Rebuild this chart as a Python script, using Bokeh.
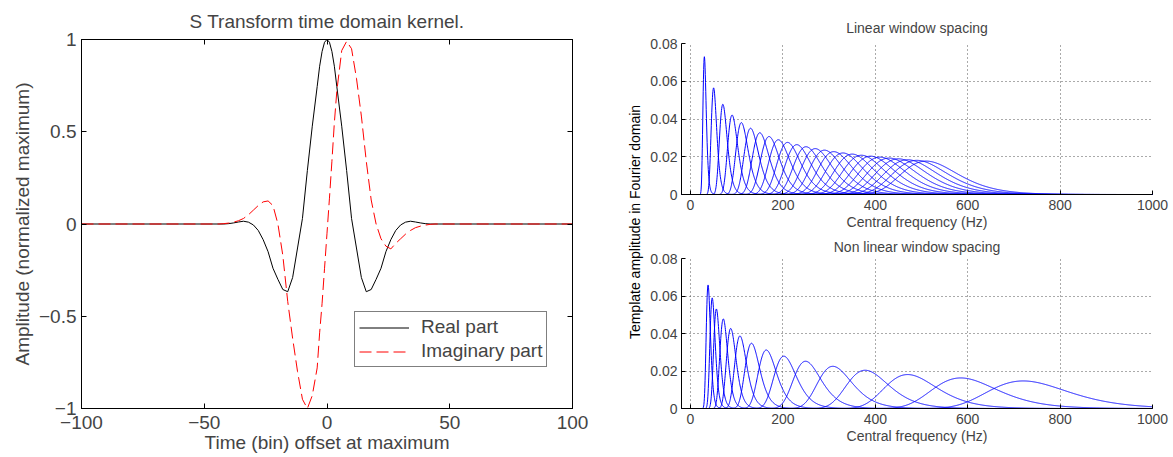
import numpy as np
from bokeh.plotting import figure
from bokeh.layouts import row, column
from bokeh.models import (Range1d, FixedTicker, LinearAxis, Legend, LegendItem,
                          Label, CustomJSTickFormatter, CustomLabelingPolicy)
from bokeh.embed import file_html
from bokeh.resources import INLINE

# ---------------- data ----------------
# Left panel: S transform time-domain kernel
kernel_offset = [-100, -44, -42, -40, -38, -36, -34, -32, -30, -28, -26, -24, -22, -20,
                 -18, -16, -14, -12, -10, -8, -6, -4, -3, -2, -1, 0, 1, 2, 3, 4, 6, 8,
                 10, 12, 14, 16, 18, 20, 22, 24, 26, 28, 30, 32, 34, 36, 38, 40, 42, 44,
                 100]
real_part = [0.0,
             0.0, 0.0, 0.002, 0.006, 0.011, 0.015, 0.01, -0.005, -0.035, -0.085, -0.15,
             -0.24, -0.30, -0.355, -0.367, -0.29, -0.13, 0.03,
             0.29, 0.53, 0.745, 0.855, 0.935, 0.985,
             1.0,
             0.985, 0.935, 0.855, 0.745, 0.53, 0.29,
             0.03, -0.13, -0.29, -0.367, -0.355, -0.30, -0.24, -0.15, -0.085, -0.035,
             -0.005, 0.01, 0.015, 0.011, 0.006, 0.002, 0.0, 0.0,
             0.0]
imag_part = [0.0,
             0.0, 0.002, 0.005, 0.01, 0.018, 0.03, 0.05, 0.075, 0.10, 0.12, 0.125, 0.10,
             0.0, -0.17, -0.42, -0.62, -0.80, -0.95,
             -1.0, -0.93, -0.78, -0.59, -0.43, -0.24,
             -0.05,
             0.14, 0.34, 0.55, 0.72, 0.94, 0.99,
             0.95, 0.79, 0.585, 0.34, 0.13, 0.0, -0.08, -0.12, -0.135, -0.105, -0.08,
             -0.055, -0.035, -0.02, -0.012, -0.006, -0.002, 0.0,
             0.0]
kernel_xticks = [-100, -50, 0, 50, 100]
kernel_yticks = [-1, -0.5, 0, 0.5, 1]

# Right panels: window templates (centre frequency in Hz, peak amplitude)
linear_centres = [30, 50, 70, 90, 110, 130, 150, 170, 190, 210, 230, 250, 270, 290,
                  310, 330, 350, 370, 390, 410, 430, 450, 470, 490, 510]
linear_peaks = [0.073, 0.0565, 0.0478, 0.0421, 0.0381, 0.0351, 0.0327, 0.0307, 0.029,
                0.0276, 0.0264, 0.0253, 0.0243, 0.0235, 0.0227, 0.022, 0.0214, 0.0208,
                0.0203, 0.0198, 0.0193, 0.0189, 0.0184, 0.0181, 0.0177]
nonlinear_centres = [38, 47, 56, 71, 87, 107, 132, 164, 202, 249, 308, 378, 470, 585, 720]
nonlinear_peaks = [0.0659, 0.059, 0.0531, 0.0478, 0.0427, 0.0387, 0.0348, 0.0312, 0.0279,
                   0.0252, 0.0225, 0.0204, 0.0181, 0.0163, 0.0147]
window_sharpness = 35.0   # relative width of the Gaussian windows
freq_ticks = [0, 200, 400, 600, 800, 1000]
amp_ticks = [0, 0.02, 0.04, 0.06, 0.08]

FONT = "Liberation Sans"
FMT = CustomJSTickFormatter(code="return tick < 0 ? '\u2212' + String(-tick) : String(tick);")
NO_LABELS = "for (const i of indices) { indices.unset(i) }\nreturn indices"

freq = np.arange(-20.0, 1000.01, 0.5)


def template(f, centre, peak):
    fs = np.where(f > 0, f, 1.0)
    g = peak * np.exp(-window_sharpness * ((fs - centre) / fs) ** 2)
    return np.where(f > 0, g, 0.0)


# ---------------- left panel ----------------
p1 = figure(width=610, height=457, x_range=Range1d(-100, 100), y_range=Range1d(-1, 1),
            output_backend="svg", toolbar_location=None,
            min_border_left=81, min_border_right=38, min_border_top=39, min_border_bottom=49)
p1.grid.visible = False
p1.outline_line_color = "black"
p1.outline_line_width = 1
p1.title.text = "S Transform time domain kernel."
p1.title.align = "center"
p1.title.text_font = FONT
p1.title.text_font_size = "19px"
p1.title.text_font_style = "normal"
p1.title.standoff = 8

for ax, ticks, lab in ((p1.xaxis[0], kernel_xticks, "Time (bin) offset at maximum"),
                       (p1.yaxis[0], kernel_yticks, "Amplitude (normalized maximum)")):
    ax.ticker = FixedTicker(ticks=ticks)
    ax.formatter = FMT
    ax.axis_label = lab
    ax.axis_label_text_font = FONT
    ax.axis_label_text_font_size = "19px"
    ax.axis_label_text_font_style = "normal"
    ax.major_label_text_font = FONT
    ax.major_label_text_font_size = "19px"
    ax.major_tick_in = 5
    ax.major_tick_out = 0
    ax.minor_tick_line_color = None
    ax.axis_line_color = "black"
    ax.major_tick_line_color = "black"
    ax.major_label_standoff = 5
p1.xaxis[0].major_label_standoff = 7
p1.xaxis[0].axis_label_standoff = 0
p1.yaxis[0].axis_label_standoff = 3

for side, ticks in (("above", kernel_xticks), ("right", kernel_yticks)):
    ax = LinearAxis(ticker=FixedTicker(ticks=ticks),
                    major_label_policy=CustomLabelingPolicy(code=NO_LABELS),
                    major_label_text_font_size="1px",
                    major_label_standoff=0, major_tick_in=5, major_tick_out=0,
                    minor_tick_line_color=None)
    p1.add_layout(ax, side)

r_real = p1.line(kernel_offset, real_part, line_color="black", line_width=1)
r_imag = p1.line(kernel_offset, imag_part, line_color="#ff0000", line_width=1,
                 line_dash="12 5")
legend = Legend(items=[LegendItem(label="Real part", renderers=[r_real]),
                       LegendItem(label="Imaginary part", renderers=[r_imag])],
                location=(273, 41), border_line_color="black", border_line_width=1,
                background_fill_color="white", background_fill_alpha=1.0,
                label_text_font=FONT, label_text_font_size="19px",
                glyph_width=50, glyph_height=19, label_height=19, spacing=2,
                padding=4, margin=0, label_standoff=12)
p1.add_layout(legend)

# ---------------- shared y label ----------------
pl = figure(width=35, height=457, x_range=Range1d(0, 35), y_range=Range1d(0, 457),
            output_backend="svg", toolbar_location=None, x_axis_type=None,
            y_axis_type=None, min_border=0)
pl.outline_line_color = None
pl.grid.visible = False
pl.add_layout(Label(x=24, y=231, text="Template amplitude in Fourier domain",
                    angle=np.pi / 2, text_align="center", text_baseline="middle",
                    text_font=FONT, text_font_size="14px", text_color="black"))


# ---------------- right panels ----------------
def window_panel(title, centres, peaks, height, top, bottom, title_gap):
    p = figure(width=528, height=height, x_range=Range1d(-19.5, 1000),
               y_range=Range1d(0, 0.08), output_backend="svg", toolbar_location=None,
               min_border_left=36, min_border_right=21, min_border_top=top,
               min_border_bottom=bottom)
    p.outline_line_color = None
    p.title.text = title
    p.title.align = "center"
    p.title.text_font = FONT
    p.title.text_font_size = "14px"
    p.title.text_font_style = "normal"
    p.title.standoff = title_gap
    for ax, ticks in ((p.xaxis[0], freq_ticks), (p.yaxis[0], amp_ticks)):
        ax.ticker = FixedTicker(ticks=ticks)
        ax.formatter = FMT
        ax.major_label_text_font = FONT
        ax.major_label_text_font_size = "14px"
        ax.major_tick_in = 4
        ax.major_tick_out = 0
        ax.minor_tick_line_color = None
        ax.major_label_standoff = 4
        ax.axis_line_color = "black"
    p.xaxis[0].major_label_standoff = 5
    p.xaxis[0].axis_label = "Central frequency (Hz)"
    p.xaxis[0].axis_label_text_font = FONT
    p.xaxis[0].axis_label_text_font_size = "14px"
    p.xaxis[0].axis_label_text_font_style = "normal"
    p.xaxis[0].axis_label_standoff = 1
    p.grid.grid_line_color = "#555555"
    p.grid.grid_line_dash = "1 3"
    p.grid.grid_line_width = 1
    for c, a in zip(centres, peaks):
        p.line(freq, template(freq, c, a), line_color="#0000ff", line_width=1)
    return p


p2 = window_panel("Linear window spacing", linear_centres, linear_peaks, 232, 43, 38, 15)
p3 = window_panel("Non linear window spacing", nonlinear_centres, nonlinear_peaks, 225, 26, 49, 8)

layout = row(p1, pl, column(p2, p3))
open("out.html", "w").write(file_html(layout, INLINE))
